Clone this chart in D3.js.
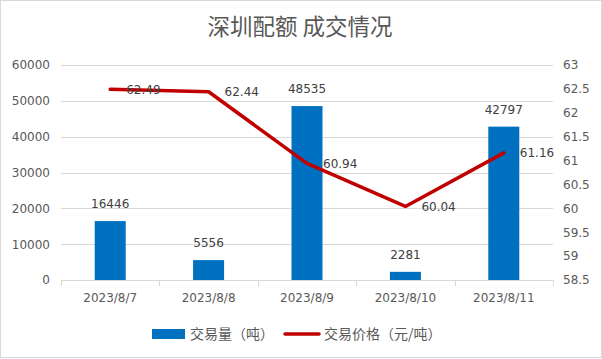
<!DOCTYPE html>
<html><head><meta charset="utf-8">
<script src="https://cdn.jsdelivr.net/npm/d3@7"></script>
<style>body{margin:0;background:#fff}svg{display:block}</style>
</head><body><svg id="c" width="602" height="359"></svg>
<script>
const categories = ["2023/8/7","2023/8/8","2023/8/9","2023/8/10","2023/8/11"];
const volume = [16446, 5556, 48535, 2281, 42797];
const price = [62.49, 62.44, 60.94, 60.04, 61.16];
const leftTicks = [0,10000,20000,30000,40000,50000,60000];
const rightTicks = [58.5,59,59.5,60,60.5,61,61.5,62,62.5,63];
const title = "深圳配额 成交情况";
const seriesNames = ["交易量（吨）","交易价格（元/吨）"];

const font = "'Noto Sans CJK SC', 'Microsoft YaHei', sans-serif";
const nfont = "'DejaVu Sans', sans-serif";
const svg = d3.select("#c");
svg.append("rect").attr("x",0.5).attr("y",0.5).attr("width",601).attr("height",357)
  .attr("fill","#fff").attr("stroke","#D9D9D9");

const L=61, R=553, T=65, B=280;
const x = d3.scaleBand().domain(categories).range([L,R]).paddingInner(0.685).paddingOuter(0.3425);
const xc = d3.scaleBand().domain(categories).range([L,R]);
const yL = d3.scaleLinear().domain([0,60000]).range([B,T]);
const yR = d3.scaleLinear().domain([58.5,63]).range([B,T]);

svg.append("text").attr("x",300).attr("y",35).attr("text-anchor","middle")
  .attr("font-family",font).attr("font-size",22.5).attr("fill","#595959").text(title);

// gridlines
svg.append("g").selectAll("line").data(leftTicks.filter(d=>d>0)).join("line")
  .attr("x1",L).attr("x2",R).attr("y1",d=>Math.round(yL(d))+0.5).attr("y2",d=>Math.round(yL(d))+0.5)
  .attr("stroke","#D9D9D9");

// left axis labels
const gl = svg.append("g").attr("transform",`translate(${L},0)`)
  .call(d3.axisLeft(yL).tickValues(leftTicks).tickSize(0).tickPadding(11).tickFormat(d3.format("d")));
gl.select(".domain").remove();
gl.selectAll("text").attr("font-family",nfont).attr("font-size",12).attr("fill","#595959");

const gr = svg.append("g").attr("transform",`translate(${R},0)`)
  .call(d3.axisRight(yR).tickValues(rightTicks).tickSize(0).tickPadding(10).tickFormat(d=>d3.format("")(d)));
gr.select(".domain").remove();
gr.selectAll("text").attr("font-family",nfont).attr("font-size",12).attr("fill","#595959");

// bottom axis
const gb = svg.append("g").attr("transform",`translate(0,${B+0.5})`)
  .call(d3.axisBottom(xc).tickSize(0).tickPadding(13));
gb.select(".domain").attr("stroke","#D9D9D9").attr("d",`M${L},0H${R}`);
gb.selectAll("text").attr("font-family",nfont).attr("font-size",12).attr("fill","#595959");
const bticks = categories.map(c=>xc(c)).concat([R]);
svg.append("g").selectAll("line").data(bticks).join("line")
  .attr("x1",d=>Math.round(d)+0.5).attr("x2",d=>Math.round(d)+0.5).attr("y1",B).attr("y2",B+6).attr("stroke","#D9D9D9");

// bars
svg.append("g").selectAll("rect").data(volume).join("rect")
  .attr("x",(d,i)=>x(categories[i])).attr("width",x.bandwidth())
  .attr("y",d=>yL(d)).attr("height",d=>B-yL(d)).attr("fill","#0070C0");
svg.append("g").selectAll("text").data(volume).join("text")
  .attr("x",(d,i)=>x(categories[i])+x.bandwidth()/2).attr("y",d=>yL(d)-13)
  .attr("text-anchor","middle").attr("font-family",nfont)
  .attr("font-size",12).attr("fill","#404040").text(d=>d);

// line
const cx = i => xc(categories[i]) + xc.bandwidth()/2;
svg.append("path").datum(price).attr("fill","none").attr("stroke","#C00000").attr("stroke-width",3.5)
  .attr("stroke-linejoin","round").attr("stroke-linecap","round")
  .attr("d", d3.line().x((d,i)=>cx(i)).y(d=>yR(d)));
svg.append("g").selectAll("text").data(price).join("text")
  .attr("x",(d,i)=>cx(i)+16).attr("y",d=>yR(d)).attr("dy","0.35em")
  .attr("font-family",nfont)
  .attr("font-size",12).attr("fill","#404040").text(d=>d.toFixed(2));

// legend
const lg = svg.append("g");
lg.append("rect").attr("x",152).attr("y",329).attr("width",33).attr("height",10).attr("fill","#0070C0");
lg.append("text").attr("x",190).attr("y",334).attr("dy","0.38em").attr("font-family",font).attr("font-size",14).attr("fill","#595959").text(seriesNames[0]);
lg.append("line").attr("x1",285).attr("x2",319).attr("y1",334).attr("y2",334).attr("stroke","#C00000").attr("stroke-width",3.5).attr("stroke-linecap","round");
lg.append("text").attr("x",324).attr("y",334).attr("dy","0.38em").attr("font-family",font).attr("font-size",14).attr("fill","#595959").text(seriesNames[1]);
</script></body></html>
